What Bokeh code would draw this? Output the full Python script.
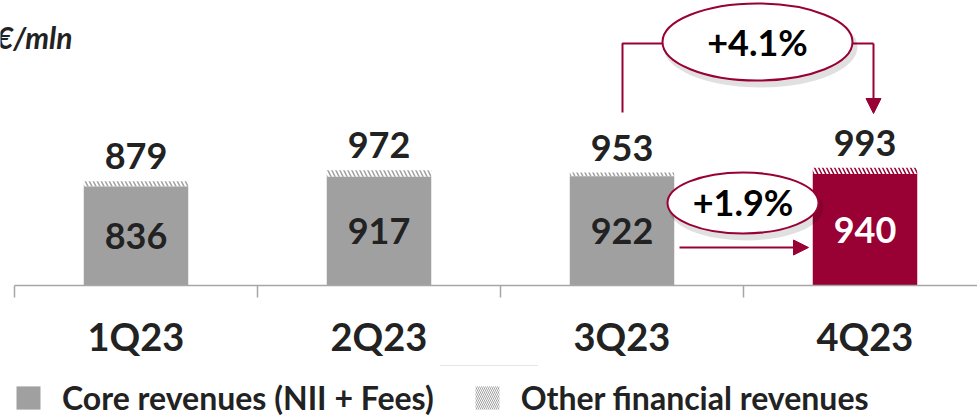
from bokeh.plotting import figure
from bokeh.layouts import column
from bokeh.models import (Range1d, FixedTicker, ColumnDataSource, Label, Arrow,
                          NormalHead, Legend, LegendItem)
from bokeh.core.properties import value
from bokeh.embed import file_html
from bokeh.resources import INLINE

# ---------------- data ----------------
quarters = ["1Q23", "2Q23", "3Q23", "4Q23"]
core_revenues = [836, 917, 922, 940]
total_revenues = [879, 972, 953, 993]
growth_total_label = "+4.1%"
growth_core_label = "+1.9%"
unit_label = "€/mln"
legend_labels = ["Core revenues (NII + Fees)", "Other financial revenues"]

# ---------------- styles ----------------
GRAY = "#a0a0a0"
RED = "#990033"
DARK = "#222222"
FONT = "Lato"
bar_colors = [GRAY, GRAY, GRAY, RED]
inner_text_colors = [DARK, DARK, DARK, "white"]

W, H = 977, 416
MAIN_H = 365            # height of the chart figure; the legend strip follows
AXIS_LEFT = 14          # page x of the axis start
FRAME_H = 285           # page y of the baseline
CAT_PX = 243.0          # pixels per category
PX_PER_UNIT = 0.1185    # pixels per €mln

def dx(px):  # page pixel -> x data
    return (px - AXIS_LEFT) / CAT_PX

def dy(py):  # page pixel -> y data
    return (FRAME_H - py) / PX_PER_UNIT

xs = [i + 0.5 for i in range(len(quarters))]
src = ColumnDataSource(dict(
    x=xs, core=core_revenues, total=total_revenues, color=bar_colors,
    tcolor=inner_text_colors, mid=[v / 2 for v in core_revenues],
    core_lbl=[str(v) for v in core_revenues],
    total_lbl=[str(v) for v in total_revenues]))

p = figure(width=W, height=MAIN_H,
           x_range=Range1d(dx(0), dx(W)),
           y_range=Range1d(0, FRAME_H / PX_PER_UNIT),
           output_backend="svg", toolbar_location=None,
           min_border_left=0, min_border_right=0, min_border_top=0,
           min_border_bottom=MAIN_H - FRAME_H)
p.outline_line_color = None
p.xgrid.visible = False
p.ygrid.visible = False
p.yaxis.visible = False
p.background_fill_color = "white"
p.border_fill_color = "white"

BW = 0.43
hatch_r = p.vbar(x="x", bottom="core", top="total", width=BW, source=src,
                 fill_color="white", line_color=None,
                 hatch_pattern="left_diagonal_line", hatch_color="color",
                 hatch_scale=8, hatch_weight=1.5)
core_r = p.vbar(x="x", top="core", width=BW, source=src, fill_color="color",
                line_color=None)

p.text(x="x", y="total", text="total_lbl", source=src, y_offset=-25,
       text_align="center", text_baseline="middle",
       text_font=value(FONT), text_font_style="bold", text_font_size="36px",
       text_color=DARK)
p.text(x="x", y="mid", text="core_lbl", source=src,
       text_align="center", text_baseline="middle",
       text_font=value(FONT), text_font_style="bold", text_font_size="36px",
       text_color="tcolor")

# axis
ax = p.xaxis[0]
ax.bounds = (0, len(quarters))
ax.ticker = FixedTicker(ticks=xs, minor_ticks=list(range(len(quarters) + 1)))
ax.major_label_overrides = {x: q for x, q in zip(xs, quarters)}
ax.axis_line_color = "#a6a6a6"
ax.axis_line_width = 1.5
ax.major_tick_line_color = None
ax.major_tick_out = 0
ax.major_tick_in = 0
ax.minor_tick_line_color = "#a6a6a6"
ax.minor_tick_line_width = 1.5
ax.minor_tick_in = 0
ax.minor_tick_out = 12
ax.major_label_standoff = 15
ax.major_label_text_font = FONT
ax.major_label_text_font_style = "bold"
ax.major_label_text_font_size = "38px"
ax.major_label_text_color = DARK

# unit label
p.add_layout(Label(x=dx(72), y=dy(36), text=unit_label, text_align="right",
                   text_baseline="middle", text_font=FONT,
                   text_font_style="bold italic", text_font_size="30px",
                   text_color=DARK))

# bracket for total growth
p.line([dx(622), dx(622), dx(662)], [dy(112), dy(43), dy(43)],
       line_color=RED, line_width=2)
p.line([dx(852), dx(873)], [dy(43), dy(43)], line_color=RED, line_width=2)
p.add_layout(Arrow(x_start=dx(873), y_start=dy(43), x_end=dx(873), y_end=dy(113),
                   line_color=RED, line_width=2,
                   end=NormalHead(size=15, fill_color=RED, line_color=RED)))
# core growth arrow
p.add_layout(Arrow(x_start=dx(679), y_start=dy(247), x_end=dx(808), y_end=dy(247),
                   line_color=RED, line_width=2,
                   end=NormalHead(size=15, fill_color=RED, line_color=RED)))

# ellipses with soft shadow
for (cx, cy, w, h) in [(757, 41.5, 190, 77), (742.5, 202.5, 151, 61)]:
    p.ellipse(x=[dx(cx + 3)], y=[dy(cy + 5)], width=w + 4, height=h + 4,
              width_units="screen", height_units="screen",
              fill_color="black", fill_alpha=0.12, line_color=None)
    p.ellipse(x=[dx(cx)], y=[dy(cy)], width=w, height=h,
              width_units="screen", height_units="screen",
              fill_color="white", line_color=RED, line_width=2)

p.text(x=[dx(757)], y=[dy(41)], text=[growth_total_label], text_align="center",
       text_baseline="middle", text_font=value(FONT), text_font_style="bold",
       text_font_size="36px", text_color="black")
p.text(x=[dx(742.5)], y=[dy(201)], text=[growth_core_label], text_align="center",
       text_baseline="middle", text_font=value(FONT), text_font_style="bold",
       text_font_size="36px", text_color="black")

# ---------------- legend strip ----------------
# the proxy bars use the first quarter's values but lie outside this strip's view
lg = figure(width=W, height=H - MAIN_H, x_range=Range1d(0, 1), y_range=Range1d(-2, -1),
            output_backend="svg", toolbar_location=None,
            min_border_left=0, min_border_right=0, min_border_top=0,
            min_border_bottom=0)
lg.outline_line_color = None
lg.xaxis.visible = False
lg.yaxis.visible = False
lg.xgrid.visible = False
lg.ygrid.visible = False
lg_core = lg.vbar(x=[xs[0]], top=[core_revenues[0]], width=0.1,
                  fill_color=GRAY, line_color=None)
lg_other = lg.vbar(x=[xs[0]], bottom=[core_revenues[0]], top=[total_revenues[0]],
                   width=0.1, fill_color="white", line_color=None,
                   hatch_pattern="left_diagonal_line", hatch_color=GRAY,
                   hatch_scale=4, hatch_weight=1)
legend = Legend(items=[LegendItem(label=legend_labels[0], renderers=[lg_core]),
                       LegendItem(label=legend_labels[1], renderers=[lg_other])],
                location="top_left", orientation="horizontal",
                glyph_width=30, glyph_height=29, label_height=29,
                label_standoff=19, spacing=38, padding=0, margin=13,
                label_text_font=FONT, label_text_font_style="bold",
                label_text_font_size="32px", label_text_color=DARK,
                border_line_color=None, background_fill_alpha=0)
lg.add_layout(legend)

open("out.html", "w").write(file_html(column(p, lg), INLINE))
